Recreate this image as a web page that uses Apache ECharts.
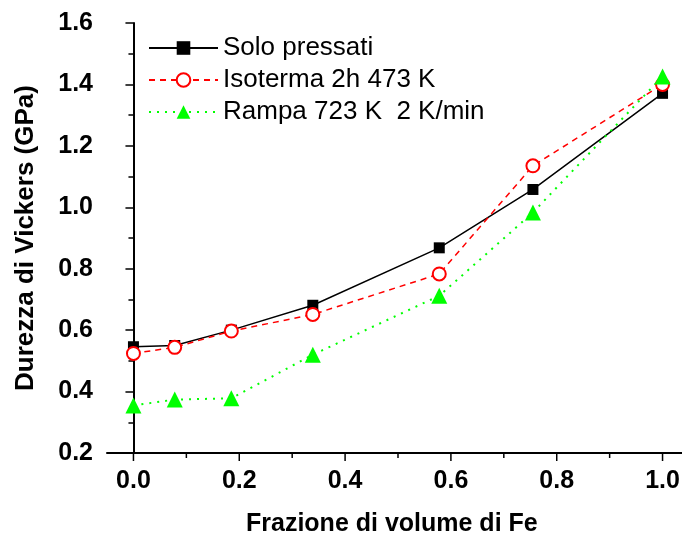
<!DOCTYPE html>
<html><head><meta charset="utf-8">
<script src="https://cdn.jsdelivr.net/npm/echarts@6/dist/echarts.min.js"></script>
<style>html,body{margin:0;padding:0;background:#fff}#c{width:682px;height:539px}</style>
</head><body><div id="c"></div>
<script>
const xFe = [0.0, 0.078, 0.185, 0.339, 0.578, 0.755, 1.0];
const soloPressati = [0.546, 0.550, 0.600, 0.681, 0.868, 1.058, 1.371];
const isoterma = [0.524, 0.544, 0.597, 0.651, 0.783, 1.135, 1.400];
const rampa = [0.355, 0.374, 0.378, 0.520, 0.712, 0.983, 1.426];
const xTickLabels = ['0.0', '0.2', '0.4', '0.6', '0.8', '1.0'];
const seriesNames = ['Solo pressati', 'Isoterma 2h 473 K', 'Rampa 723 K  2 K/min'];
const xTitle = 'Frazione di volume di Fe';
const yTitle = 'Durezza di Vickers (GPa)';

const pairs = ys => xFe.map((x, i) => [x, ys[i]]);
const font = 'Liberation Sans, Arial, sans-serif';
const chart = echarts.init(document.getElementById('c'), null, {renderer: 'canvas'});
chart.setOption({
  animation: false,
  backgroundColor: '#fff',
  grid: {left: 107, right: -7, top: 23, bottom: 86, containLabel: false, outerBoundsMode: 'none'},
  legend: {
    left: 143, top: 30, orient: 'vertical', itemWidth: 69, itemHeight: 17, itemGap: 6,
    textStyle: {fontFamily: font, fontSize: 26, color: '#000'},
    data: seriesNames
  },
  xAxis: {
    type: 'value', min: -0.05, max: 1.05, interval: 0.05,
    axisLine: {lineStyle: {color: '#000', width: 2}},
    axisTick: {show: false},
    minorTick: {show: false},
    splitLine: {show: false},
    axisLabel: {show: false}
  },
  yAxis: {
    type: 'value', min: 0.2, max: 1.6, interval: 0.2,
    name: yTitle, nameLocation: 'middle', nameGap: 68, nameRotate: 90,
    nameTextStyle: {fontFamily: font, fontSize: 26, fontWeight: 'bold', color: '#000'},
    axisLine: {lineStyle: {color: '#000', width: 2}},
    axisTick: {length: 8, inside: false, lineStyle: {color: '#000', width: 1.5}},
    minorTick: {show: true, splitNumber: 2, length: 5, lineStyle: {color: '#000', width: 1.5}},
    splitLine: {show: false},
    axisLabel: {fontFamily: font, fontSize: 25, fontWeight: 'bold', color: '#000', margin: 14,
      formatter: v => v.toFixed(1)}
  },
  graphic: [{type: 'text', left: 246, top: 512,
    style: {text: xTitle, fill: '#000', font: 'bold 25px ' + font}}],
  series: [
    {name: seriesNames[0], type: 'line', data: pairs(soloPressati), symbol: 'rect', symbolSize: 11,
     itemStyle: {color: '#000'}, lineStyle: {color: '#000', width: 1.5, type: 'solid'}},
    {name: seriesNames[1], type: 'line', data: pairs(isoterma), symbol: 'emptyCircle', symbolSize: 13,
     itemStyle: {color: '#ff0000', borderColor: '#ff0000', borderWidth: 1.2},
     lineStyle: {color: '#ff0000', width: 1.5, type: [6, 5]}},
    {name: seriesNames[2], type: 'line', data: pairs(rampa), symbol: 'triangle', symbolSize: 16,
     itemStyle: {color: '#00ff00'}, lineStyle: {color: '#00ff00', width: 2, type: [2, 6]}},
    {type: 'custom', silent: true, data: [0],
     renderItem: (params, api) => {
       const els = [];
       for (let i = 0; i <= 10; i++) {
         const v = i / 10;
         const p = api.coord([v, 0.2]);
         const major = i % 2 === 0;
         els.push({type: 'line', shape: {x1: p[0], y1: p[1], x2: p[0], y2: p[1] + (major ? 8 : 5)},
           style: {stroke: '#000', lineWidth: 1.5}});
         if (major) {
           els.push({type: 'text', x: p[0], y: p[1] + 28,
             style: {text: xTickLabels[i / 2], fill: '#000', font: 'bold 25px ' + font, align: 'center', verticalAlign: 'middle'}});
         }
       }
       return {type: 'group', children: els};
     }}
  ]
});
</script></body></html>
